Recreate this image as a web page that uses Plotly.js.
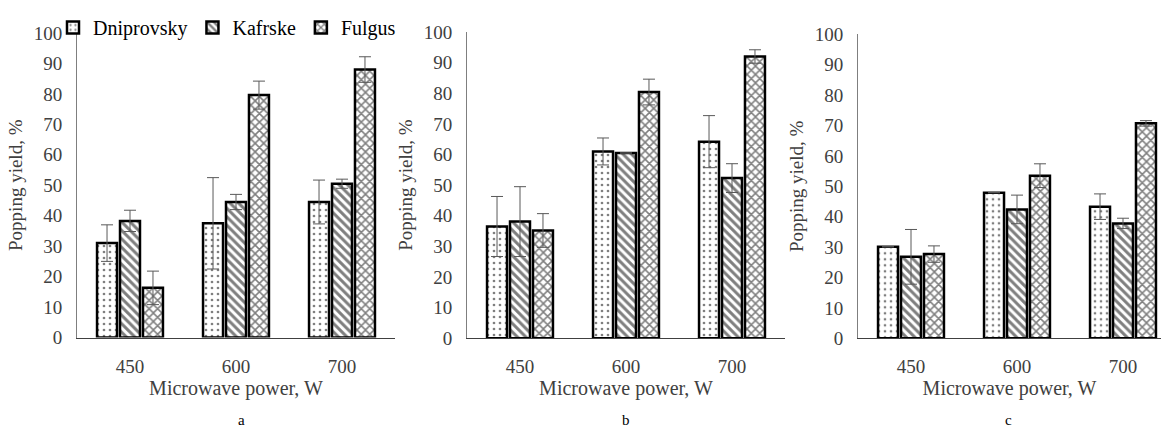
<!DOCTYPE html>
<html>
<head>
<meta charset="utf-8">
<script src="https://cdn.plot.ly/plotly-3.0.1.min.js"></script>
<style>html,body{margin:0;padding:0;background:#fff;}#chart{width:1161px;height:430px;}</style>
</head>
<body>
<div id="chart"></div>
<script>
// Data
var categories = ['450', '600', '700'];
var seriesNames = ['Dniprovsky', 'Kafrske', 'Fulgus'];
var panelLabels = ['a', 'b', 'c'];
var yTicks = [0, 10, 20, 30, 40, 50, 60, 70, 80, 90, 100];

var aDniprovsky = [31.0, 37.5, 44.5];
var aDniprovskyErr = [6.0, 15.0, 7.2];
var aKafrske = [38.3, 44.5, 50.5];
var aKafrskeErr = [3.5, 2.5, 1.5];
var aFulgus = [16.3, 79.6, 88.0];
var aFulgusErr = [5.5, 4.6, 4.2];

var bDniprovsky = [36.5, 61.0, 64.2];
var bDniprovskyErr = [9.8, 4.4, 8.5];
var bKafrske = [38.1, 60.5, 52.3];
var bKafrskeErr = [11.4, 0, 4.7];
var bFulgus = [35.2, 80.4, 92.0];
var bFulgusErr = [5.5, 4.2, 2.2];

var cDniprovsky = [30.1, 47.9, 43.3];
var cDniprovskyErr = [0, 0, 4.2];
var cKafrske = [26.8, 42.4, 37.8];
var cKafrskeErr = [9.0, 4.7, 1.7];
var cFulgus = [27.7, 53.5, 70.7];
var cFulgusErr = [2.7, 3.9, 0.9];

var panels = [
  {vals: [aDniprovsky, aKafrske, aFulgus], errs: [aDniprovskyErr, aKafrskeErr, aFulgusErr]},
  {vals: [bDniprovsky, bKafrske, bFulgus], errs: [bDniprovskyErr, bKafrskeErr, bFulgusErr]},
  {vals: [cDniprovsky, cKafrske, cFulgus], errs: [cDniprovskyErr, cKafrskeErr, cFulgusErr]}
];

var patterns = [
  {shape: '.', size: 6, solidity: 0.16, fgcolor: '#000', bgcolor: '#fff', fillmode: 'overlay'},
  {shape: '\\', size: 6, solidity: 0.5, fgcolor: '#000', bgcolor: '#fff', fillmode: 'overlay'},
  {shape: 'x', size: 6, solidity: 0.45, fgcolor: '#000', bgcolor: '#fff', fillmode: 'overlay'}
];

var W = 1161, H = 430;
var FONT = '"Liberation Serif"';
var TXT = '#404040';

var traces = [];
panels.forEach(function (p, pi) {
  var sfx = pi === 0 ? '' : String(pi + 1);
  p.vals.forEach(function (v, si) {
    traces.push({
      type: 'bar',
      name: seriesNames[si],
      x: categories,
      y: v,
      xaxis: 'x' + sfx,
      yaxis: 'y' + sfx,
      showlegend: pi === 0,
      marker: {color: '#fff', line: {color: '#000', width: 2.5}, pattern: patterns[si]},
      error_y: {type: 'data', array: p.errs[si], visible: true, color: '#595959', thickness: 1, width: 6},
      hoverinfo: 'x+y'
    });
  });
});

function xAxis(x0, x1, range) {
  var ax = {
    domain: [x0 / W, Math.min(x1 / W, 1)],
    type: 'category',
    showgrid: false, zeroline: false,
    showline: true, linecolor: '#404040', linewidth: 1,
    ticks: '', ticklabelstandoff: 12,
    tickfont: {family: FONT, size: 19, color: TXT},
    title: {text: 'Microwave power, W', font: {family: FONT, size: 20, color: TXT}, standoff: 0},
    fixedrange: true
  };
  if (range) ax.range = range;
  return ax;
}
function yAxis(anchor, zeroPx, hundredPx) {
  return {
    domain: [(H - zeroPx) / H, (H - hundredPx) / H],
    anchor: anchor,
    range: [0, 100],
    tickvals: yTicks,
    showgrid: false, zeroline: false,
    showline: true, linecolor: '#7f7f7f', linewidth: 1,
    ticks: '', ticklabelstandoff: 10,
    tickfont: {family: FONT, size: 19, color: TXT},
    title: {text: 'Popping yield, %', font: {family: FONT, size: 19, color: TXT}, standoff: 6},
    fixedrange: true
  };
}

var layout = {
  width: W, height: H,
  margin: {l: 0, r: 0, t: 0, b: 0},
  paper_bgcolor: '#fff', plot_bgcolor: 'rgba(0,0,0,0)',
  barmode: 'group', bargap: 0.35, bargroupgap: 0.13,
  showlegend: true,
  legend: {orientation: 'h', x: 227 / W, xanchor: 'center', y: 1 - 8 / H, yanchor: 'top',
           font: {family: FONT, size: 20, color: '#000'}, bgcolor: 'rgba(0,0,0,0)', traceorder: 'normal'},
  xaxis: xAxis(77, 395),
  yaxis: yAxis('x', 337.5, 33),
  xaxis2: xAxis(467, 785),
  yaxis2: yAxis('x2', 338.3, 32),
  xaxis3: xAxis(858, 1176, [-0.5, -0.5 + (W - 858) / 106]),
  yaxis3: yAxis('x3', 338.3, 34.3),
  annotations: [
    {text: panelLabels[0], x: 236 / W, y: 0, xref: 'paper', yref: 'paper', showarrow: false, yanchor: 'bottom', font: {family: FONT, size: 15, color: '#000'}},
    {text: panelLabels[1], x: 626 / W, y: 0, xref: 'paper', yref: 'paper', showarrow: false, yanchor: 'bottom', font: {family: FONT, size: 15, color: '#000'}},
    {text: panelLabels[2], x: 1014 / W, y: 0, xref: 'paper', yref: 'paper', showarrow: false, yanchor: 'bottom', font: {family: FONT, size: 15, color: '#000'}}
  ]
};

Plotly.newPlot('chart', traces, layout, {staticPlot: true, displayModeBar: false});
</script>
</body>
</html>
